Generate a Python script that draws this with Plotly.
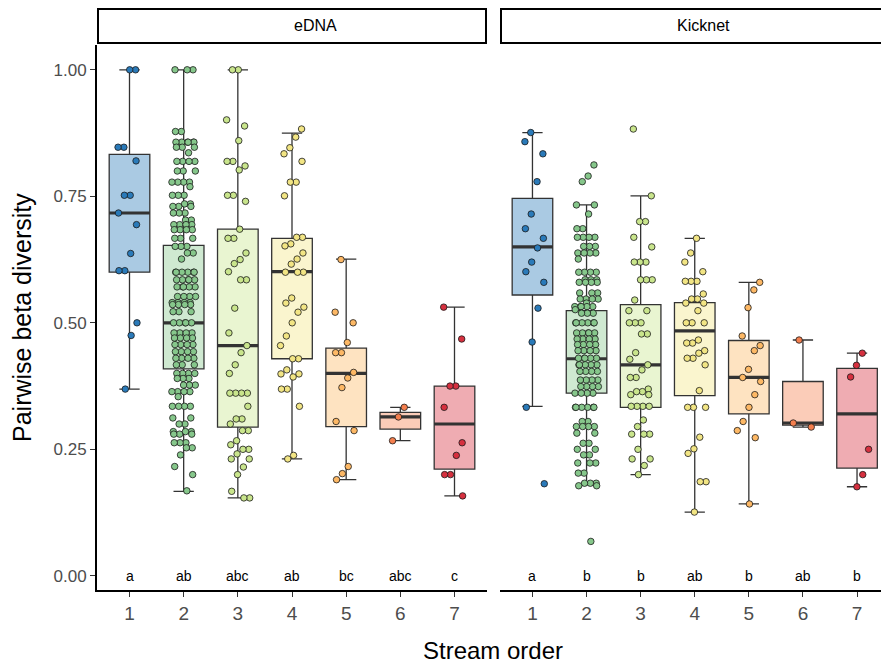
import plotly.graph_objects as go

# ---------------- data ----------------
orders = [1, 2, 3, 4, 5, 6, 7]
methods = ["eDNA", "Kicknet"]
letters = {
    "eDNA": ["a", "ab", "abc", "ab", "bc", "abc", "c"],
    "Kicknet": ["a", "b", "b", "ab", "b", "ab", "b"],
}

point_colors = ["#2A7AB9", "#86C78B", "#C9E58C", "#F2E584", "#FDB865", "#F47F4E", "#D6303F"]

# box statistics (q1, median, q3, lower whisker, upper whisker)
edna_q1 = [0.600, 0.409, 0.294, 0.429, 0.295, 0.290, 0.211]
edna_med = [0.717, 0.500, 0.455, 0.601, 0.400, 0.314, 0.300]
edna_q3 = [0.833, 0.653, 0.685, 0.667, 0.450, 0.323, 0.375]
edna_lo = [0.369, 0.167, 0.154, 0.231, 0.190, 0.267, 0.158]
edna_hi = [1.000, 1.000, 1.000, 0.875, 0.626, 0.333, 0.531]

kick_q1 = [0.555, 0.361, 0.333, 0.356, 0.320, 0.298, 0.213]
kick_med = [0.650, 0.429, 0.417, 0.484, 0.392, 0.302, 0.320]
kick_q3 = [0.746, 0.524, 0.536, 0.540, 0.465, 0.384, 0.410]
kick_lo = [0.335, 0.180, 0.200, 0.126, 0.142, 0.294, 0.176]
kick_hi = [0.876, 0.733, 0.751, 0.667, 0.580, 0.466, 0.440]

# observed pairwise values
edna_1 = [1.0, 1.0, 0.847, 0.847, 0.82, 0.752, 0.752, 0.717, 0.694, 0.637, 0.603, 0.603, 0.50, 0.475, 0.369]
edna_2 = [1.0, 1.0, 1.0, 0.878, 0.878, 0.857, 0.857, 0.857, 0.857, 0.857, 0.857, 0.847, 0.847, 0.847,
          0.836, 0.819, 0.819, 0.819, 0.819, 0.8, 0.8, 0.8, 0.778, 0.778, 0.778, 0.778, 0.769, 0.752,
          0.752, 0.752, 0.735, 0.735, 0.73, 0.73, 0.73, 0.717, 0.717, 0.717, 0.703, 0.703, 0.694, 0.694,
          0.694, 0.694, 0.684, 0.684, 0.684, 0.684, 0.667, 0.667, 0.667, 0.651, 0.651, 0.651, 0.638,
          0.638, 0.626, 0.6, 0.6, 0.6, 0.6, 0.6, 0.6, 0.585, 0.585, 0.585, 0.585, 0.585, 0.571, 0.571,
          0.571, 0.571, 0.571, 0.552, 0.552, 0.552, 0.552, 0.54, 0.54, 0.54, 0.54, 0.536, 0.536, 0.536,
          0.536, 0.522, 0.522, 0.522, 0.5, 0.5, 0.5, 0.5, 0.5, 0.48, 0.48, 0.48, 0.48, 0.47, 0.47, 0.47,
          0.47, 0.457, 0.457, 0.457, 0.457, 0.443, 0.443, 0.443, 0.443, 0.43, 0.43, 0.43, 0.43, 0.417,
          0.417, 0.417, 0.4, 0.4, 0.4, 0.4, 0.39, 0.39, 0.39, 0.377, 0.377, 0.377, 0.364, 0.364, 0.364,
          0.364, 0.354, 0.335, 0.335, 0.335, 0.335, 0.312, 0.312, 0.3, 0.3, 0.285, 0.285, 0.285, 0.28,
          0.28, 0.28, 0.263, 0.263, 0.263, 0.253, 0.253, 0.239, 0.216, 0.2, 0.168]
edna_3 = [1.0, 1.0, 0.901, 0.889, 0.86, 0.819, 0.819, 0.81, 0.802, 0.752, 0.752, 0.74, 0.685, 0.667,
          0.667, 0.638, 0.625, 0.617, 0.601, 0.585, 0.585, 0.529, 0.48, 0.455, 0.441, 0.417, 0.40,
          0.361, 0.361, 0.361, 0.361, 0.335, 0.31, 0.31, 0.30, 0.287, 0.287, 0.267, 0.259, 0.25, 0.25,
          0.241, 0.231, 0.231, 0.215, 0.20, 0.167, 0.154, 0.154]
edna_4 = [0.883, 0.867, 0.846, 0.834, 0.819, 0.778, 0.778, 0.751, 0.669, 0.669, 0.656, 0.652, 0.638,
          0.626, 0.616, 0.60, 0.60, 0.60, 0.549, 0.539, 0.531, 0.521, 0.50, 0.474, 0.455, 0.429, 0.429,
          0.407, 0.399, 0.399, 0.393, 0.369, 0.369, 0.335, 0.238, 0.231]
edna_5 = [0.625, 0.521, 0.50, 0.461, 0.441, 0.441, 0.402, 0.391, 0.372, 0.305, 0.287, 0.216, 0.202, 0.19]
edna_6 = [0.333, 0.314, 0.267]
edna_7 = [0.531, 0.468, 0.375, 0.375, 0.333, 0.263, 0.238, 0.20, 0.20, 0.158]

kick_1 = [0.876, 0.858, 0.834, 0.779, 0.715, 0.686, 0.667, 0.648, 0.62, 0.601, 0.58, 0.529, 0.462, 0.333, 0.182]
kick_2 = [0.812, 0.79, 0.779, 0.733, 0.733, 0.715, 0.686, 0.686, 0.669, 0.669, 0.669, 0.669, 0.651,
          0.651, 0.651, 0.638, 0.638, 0.638, 0.638, 0.626, 0.6, 0.6, 0.6, 0.6, 0.585, 0.585, 0.585, 0.58,
          0.58, 0.58, 0.58, 0.559, 0.559, 0.559, 0.547, 0.547, 0.547, 0.547, 0.539, 0.532, 0.532, 0.532,
          0.532, 0.532, 0.526, 0.519, 0.519, 0.519, 0.5, 0.5, 0.5, 0.5, 0.5, 0.5, 0.48, 0.48, 0.48, 0.48,
          0.48, 0.468, 0.468, 0.468, 0.468, 0.457, 0.457, 0.457, 0.457, 0.445, 0.445, 0.445, 0.445, 0.43,
          0.43, 0.43, 0.43, 0.43, 0.417, 0.417, 0.417, 0.417, 0.417, 0.404, 0.404, 0.404, 0.404, 0.387,
          0.387, 0.387, 0.387, 0.374, 0.374, 0.374, 0.374, 0.361, 0.361, 0.361, 0.361, 0.333, 0.333,
          0.333, 0.333, 0.333, 0.333, 0.305, 0.305, 0.295, 0.295, 0.295, 0.295, 0.282, 0.282, 0.262,
          0.262, 0.25, 0.25, 0.239, 0.239, 0.223, 0.223, 0.223, 0.203, 0.203, 0.183, 0.183, 0.183, 0.178,
          0.178, 0.068]
kick_3 = [0.883, 0.751, 0.70, 0.70, 0.669, 0.65, 0.62, 0.62, 0.62, 0.585, 0.585, 0.585, 0.545, 0.524,
          0.524, 0.50, 0.50, 0.50, 0.478, 0.478, 0.441, 0.428, 0.417, 0.407, 0.392, 0.392, 0.369, 0.364,
          0.364, 0.358, 0.358, 0.335, 0.335, 0.335, 0.335, 0.308, 0.295, 0.28, 0.28, 0.28, 0.25, 0.231,
          0.231, 0.218, 0.20]
kick_4 = [0.667, 0.638, 0.62, 0.601, 0.582, 0.582, 0.582, 0.557, 0.547, 0.547, 0.539, 0.539, 0.524,
          0.50, 0.50, 0.50, 0.466, 0.46, 0.46, 0.445, 0.44, 0.43, 0.43, 0.417, 0.366, 0.333, 0.333,
          0.333, 0.274, 0.251, 0.242, 0.186, 0.186, 0.126]
kick_5 = [0.58, 0.565, 0.53, 0.474, 0.455, 0.445, 0.408, 0.392, 0.384, 0.358, 0.333, 0.305, 0.287, 0.273, 0.142]
kick_6 = [0.466, 0.302, 0.294]
kick_7 = [0.44, 0.416, 0.393, 0.25, 0.20, 0.176]

values = {
    "eDNA": [edna_1, edna_2, edna_3, edna_4, edna_5, edna_6, edna_7],
    "Kicknet": [kick_1, kick_2, kick_3, kick_4, kick_5, kick_6, kick_7],
}
stats = {
    "eDNA": (edna_q1, edna_med, edna_q3, edna_lo, edna_hi),
    "Kicknet": (kick_q1, kick_med, kick_q3, kick_lo, kick_hi),
}

# ---------------- styling helpers ----------------
FONT = "Liberation Sans, Arial, Helvetica, sans-serif"
BOX_W = 0.75
JIT = 0.44


def rgba(hexc, a):
    h = hexc.lstrip("#")
    r, g, b = int(h[0:2], 16), int(h[2:4], 16), int(h[4:6], 16)
    return f"rgba({r},{g},{b},{a})"


def jitter(n, seed):
    # deterministic low-discrepancy spread (not random)
    return [(((i + 1) * 0.7548776662 + seed * 0.3819660113) % 1.0 - 0.5) * JIT for i in range(n)]


fig = go.Figure()
axes = {"eDNA": ("x", "y"), "Kicknet": ("x2", "y2")}

for m in methods:
    xa, ya = axes[m]
    q1, med, q3, lo, hi = stats[m]
    for k, o in enumerate(orders):
        fig.add_trace(go.Box(
            x=[o], q1=[q1[k]], median=[med[k]], q3=[q3[k]],
            lowerfence=[lo[k]], upperfence=[hi[k]],
            width=BOX_W, boxpoints=False,
            fillcolor=rgba(point_colors[k], 0.4),
            line=dict(color="#333333", width=1.3),
            xaxis=xa, yaxis=ya, showlegend=False, hoverinfo="skip",
        ))
    # thick median bars
    mx, my = [], []
    for k, o in enumerate(orders):
        mx += [o - BOX_W / 2, o + BOX_W / 2, None]
        my += [med[k], med[k], None]
    fig.add_trace(go.Scatter(x=mx, y=my, mode="lines", line=dict(color="#333333", width=3.2),
                             xaxis=xa, yaxis=ya, showlegend=False, hoverinfo="skip"))
    # jittered points
    for k, o in enumerate(orders):
        vals = values[m][k]
        offs = jitter(len(vals), k + (0 if m == "eDNA" else 7))
        fig.add_trace(go.Scatter(
            x=[o + d for d in offs], y=vals, mode="markers",
            marker=dict(size=6.5, color=point_colors[k], line=dict(color="#1a1a1a", width=0.8)),
            xaxis=xa, yaxis=ya, showlegend=False, hoverinfo="skip",
        ))
    # significance letters
    for k, o in enumerate(orders):
        fig.add_annotation(x=o, y=0, xref=xa, yref=ya, text=letters[m][k], showarrow=False,
                           font=dict(size=14, color="black", family=FONT))

L, R, T, B = 97, 0, 45, 74
W, H = 881, 664
pw, ph = W - L - R, H - T - B
d1 = [0, (487 - L) / pw]
d2 = [(500 - L) / pw, 1]

axis_common = dict(showgrid=False, zeroline=False, showline=True, linecolor="black", linewidth=1.8,
                   ticks="outside", ticklen=5, tickwidth=1.3, tickcolor="#333333",
                   tickfont=dict(size=19, color="#4D4D4D", family=FONT),
                   tickvals=orders, ticktext=[str(o) for o in orders])

y_ticks = [0.0, 0.25, 0.5, 0.75, 1.0]
fig.update_layout(
    width=W, height=H, margin=dict(l=L, r=R, t=T, b=B, pad=0),
    plot_bgcolor="white", paper_bgcolor="white",
    boxmode="overlay",
    xaxis=dict(domain=d1, range=[0.4, 7.6], anchor="y", **axis_common),
    xaxis2=dict(domain=d2, range=[0.4, 7.6 - (889.5 - 881) / 54.17], anchor="y2", **axis_common),
    yaxis=dict(domain=[0, 1], range=[-0.028, 1.049], showgrid=False, zeroline=False, showline=True,
               linecolor="black", linewidth=1.8, ticks="outside", ticklen=5, tickwidth=1.3,
               tickcolor="#333333", tickvals=y_ticks, ticktext=["0.00", "0.25", "0.50", "0.75", "1.00"],
               tickfont=dict(size=17, color="#4D4D4D", family=FONT), anchor="x"),
    yaxis2=dict(domain=[0, 1], range=[-0.028, 1.049], showgrid=False, zeroline=False, showline=False,
                showticklabels=False, ticks="", anchor="x2", matches="y"),
)

# facet strips
for m, d in zip(methods, [d1, d2]):
    fig.add_shape(type="rect", xref="paper", yref="paper",
                  x0=d[0] + 1 / pw, x1=(d[1] - 1 / pw) if m == "eDNA" else 1.01,
                  y0=(H - B - 43) / ph, y1=(H - B - 9) / ph,
                  line=dict(color="black", width=2), fillcolor="white", layer="above")
    cx = (d[0] + d[1]) / 2 if m == "eDNA" else ((500 - L) / pw + (963 - L) / pw) / 2
    fig.add_annotation(xref="paper", yref="paper", x=cx,
                       y=(H - B - 26) / ph, text=m, showarrow=False,
                       font=dict(size=16, color="black", family=FONT), yanchor="middle")

fig.add_annotation(xref="paper", yref="paper", x=(22 - L) / pw, y=(H - B - 318) / ph,
                   text="Pairwise beta diversity", textangle=-90, showarrow=False,
                   font=dict(size=25, color="black", family=FONT), xanchor="center", yanchor="middle")
fig.add_annotation(xref="paper", yref="paper", x=(493 - L) / pw, y=(H - B - 650) / ph,
                   text="Stream order", showarrow=False,
                   font=dict(size=24, color="black", family=FONT), xanchor="center", yanchor="middle")

fig.write_html("out.html", config={"displayModeBar": False},
               post_script="document.body.style.margin='0px';document.body.style.padding='0px';")
